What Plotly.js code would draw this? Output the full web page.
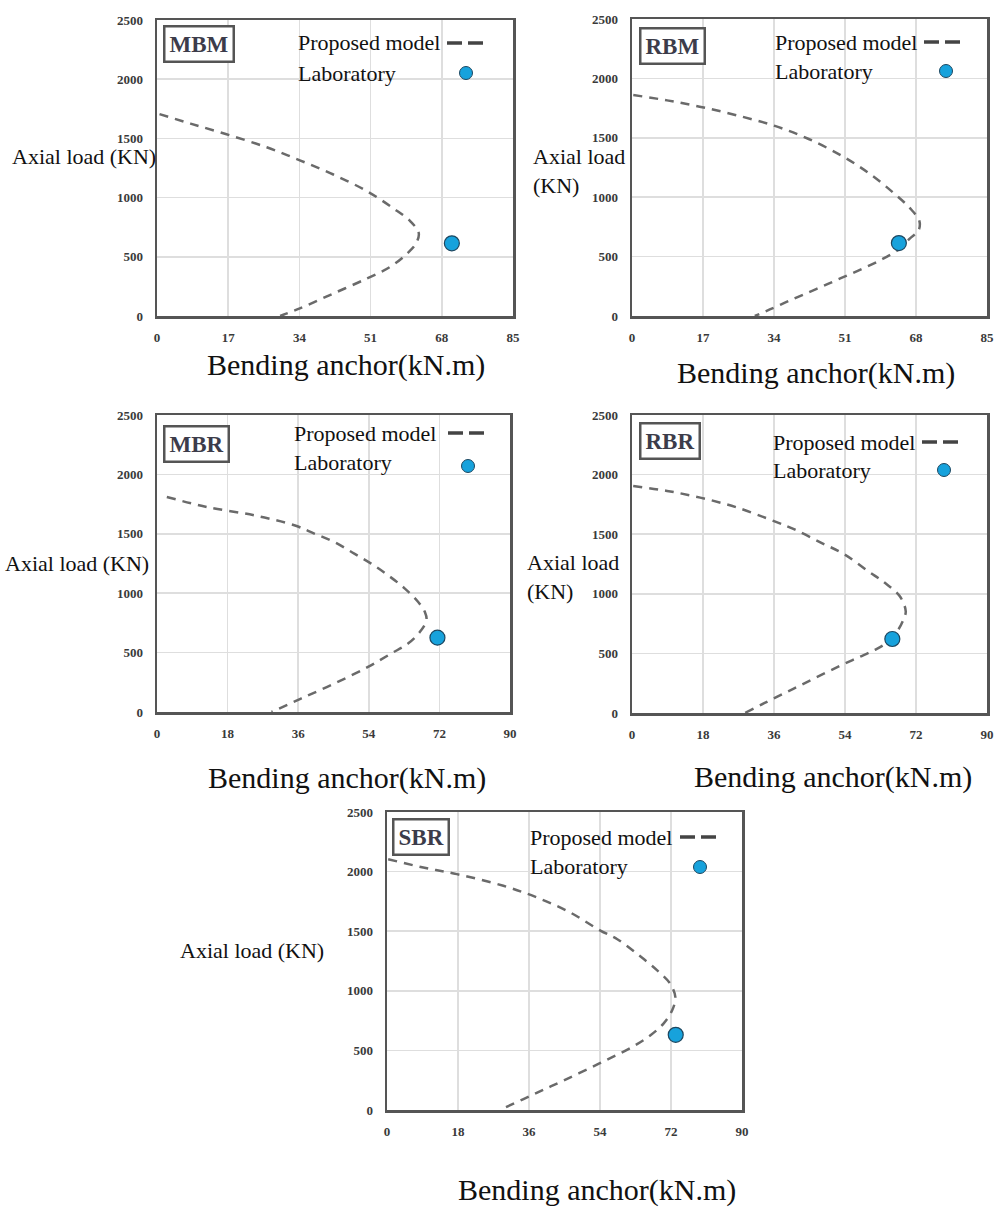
<!DOCTYPE html>
<html><head><meta charset="utf-8">
<script src="https://cdn.plot.ly/plotly-3.0.1.min.js"></script>
<style>html,body{margin:0;padding:0;background:#fff}</style>
</head><body><div id="chart" style="width:994px;height:1208px"></div>
<script>
// ---------------- DATA ----------------
const panelNames = ['MBM', 'RBM', 'MBR', 'RBR', 'SBR'];
const xTicks85 = [0, 17, 34, 51, 68, 85];
const xTicks90 = [0, 18, 36, 54, 72, 90];
const yTicks = [0, 500, 1000, 1500, 2000, 2500];
const legendModel = 'Proposed model';
const legendLab = 'Laboratory';
const yTitle = 'Axial load (KN)';
const yTitleSplit = 'Axial load<br>(KN)';
const xTitle = 'Bending anchor(kN.m)';

const mbmModelX = [0.6, 8.0, 16.6, 26.2, 34.1, 42.1, 50.1, 56.4, 60.5, 62.5, 61.8, 59.5, 55.6, 50.1, 42.1, 34.1, 29.4];
const mbmModelY = [1705, 1625, 1535, 1425, 1315, 1195, 1055, 910, 800, 700, 610, 520, 413, 316, 190, 64, 0];
const rbmModelX = [0.3, 8.4, 16.5, 25.0, 34.2, 42.3, 50.4, 56.8, 62.5, 66.5, 68.8, 68.6, 66.5, 64.1, 60.0, 55.0, 50.0, 45.5, 41.0, 37.0, 33.0, 29.4];
const rbmModelY = [1860, 1815, 1760, 1690, 1600, 1490, 1345, 1200, 1040, 910, 800, 720, 651, 567, 480, 395, 318, 248, 180, 118, 55, 0];
const mbrModelX = [2.5, 12.7, 24.7, 35.0, 40.1, 45.2, 50.3, 54.6, 58.9, 63.2, 66.6, 68.3, 68.7, 67.0, 64.0, 59.7, 53.8, 45.2, 36.7, 29.2];
const mbrModelY = [1810, 1726, 1656, 1572, 1502, 1431, 1333, 1249, 1151, 1039, 926, 842, 772, 673, 576, 492, 379, 239, 113, 0];
const rbrModelX = [0.3, 8.9, 17.3, 26.5, 36.0, 41.2, 48.0, 53.9, 59.9, 64.1, 67.9, 69.4, 68.8, 67.5, 65.0, 61.6, 57.3, 53.0, 48.0, 42.9, 38.6, 33.5, 28.6];
const rbrModelY = [1905, 1863, 1807, 1725, 1610, 1540, 1428, 1330, 1189, 1092, 979, 853, 783, 699, 600, 530, 465, 400, 320, 236, 166, 82, 0];
const sbrModelX = [0.3, 9.2, 17.7, 29.5, 38.0, 46.4, 54.1, 58.3, 63.4, 68.5, 71.8, 73.1, 72.3, 70.1, 66.8, 62.5, 56.6, 50.7, 44.7, 39.7, 34.6, 28.6];
const sbrModelY = [2104, 2034, 1979, 1881, 1783, 1658, 1505, 1435, 1310, 1171, 1059, 947, 836, 725, 627, 535, 435, 340, 247, 170, 92, 0];

const labX = [70.4, 63.9, 71.5, 66.0, 73.2];
const labY = [614, 614, 626, 621, 631];

const modelX = [mbmModelX, rbmModelX, mbrModelX, rbrModelX, sbrModelX];
const modelY = [mbmModelY, rbmModelY, mbrModelY, rbrModelY, sbrModelY];
const xTickSets = [xTicks85, xTicks85, xTicks90, xTicks90, xTicks90];

// ---------------- LAYOUT (page pixels) ----------------
const W = 994, H = 1208;
const fx = p => p / W;
const fy = p => 1 - p / H;
const panels = [
  {l:157, r:513, t:20,  b:316, box:[163,25],  pm:[296,43],  dash:[447,483], lab:[296,73],  dot:[466,73],  yt:{x:158, y:157, anchor:'right', split:false}, xt:[346,365]},
  {l:632, r:987, t:19,  b:316, box:[639,27],  pm:[773,42],  dash:[924,960], lab:[773,71],  dot:[946,71],  yt:{x:531, y:171, anchor:'left', split:true},  xt:[816,373]},
  {l:157, r:510, t:415, b:712, box:[163,425], pm:[292,433], dash:[448,484], lab:[292,462], dot:[468,466], yt:{x:151, y:563, anchor:'right', split:false}, xt:[347,778]},
  {l:632, r:987, t:415, b:713, box:[639,422], pm:[771,442], dash:[922,958], lab:[771,470], dot:[944,470], yt:{x:525, y:577, anchor:'left', split:true},  xt:[833,777]},
  {l:387, r:742, t:812, b:1110,box:[392,818], pm:[528,837], dash:[680,716], lab:[528,866], dot:[700,867], yt:{x:178, y:950, anchor:'left', split:false}, xt:[597,1190]}
];

const serif = 'Liberation Serif, Times New Roman, serif';
const markerColor = '#17a2dc';
const traces = [];
const layout = {
  width: W, height: H,
  margin: {l:0, r:0, t:0, b:0},
  paper_bgcolor: '#fff', plot_bgcolor: '#fff',
  showlegend: false,
  annotations: [], shapes: []
};

panels.forEach((p, i) => {
  const n = i === 0 ? '' : String(i + 1);
  const xa = 'xaxis' + n, ya = 'yaxis' + n;
  const ticks = xTickSets[i];
  layout[xa] = {
    domain: [fx(p.l), fx(p.r)], anchor: 'y' + n,
    range: [ticks[0], ticks[ticks.length - 1]], tickvals: ticks, ticktext: ticks.map(String),
    showgrid: true, gridcolor: '#dedede', gridwidth: 1.5, zeroline: false,
    showline: true, mirror: true, linecolor: '#555', linewidth: 2.5,
    ticks: 'outside', ticklen: 8, tickcolor: 'rgba(0,0,0,0)',
    tickfont: {family: serif, size: 13, color: '#3a3a3a', weight: 'bold'}
  };
  layout[ya] = {
    domain: [fy(p.b), fy(p.t)], anchor: 'x' + n,
    range: [0, 2500], tickvals: yTicks, ticktext: yTicks.map(String),
    showgrid: true, gridcolor: '#dedede', gridwidth: 1.5, zeroline: false,
    showline: true, mirror: true, linecolor: '#555', linewidth: 2.5,
    ticks: 'outside', ticklen: 9, tickcolor: 'rgba(0,0,0,0)',
    tickfont: {family: serif, size: 13, color: '#3a3a3a', weight: 'bold'}
  };
  traces.push({
    type: 'scatter', mode: 'lines', x: modelX[i], y: modelY[i],
    xaxis: 'x' + n, yaxis: 'y' + n,
    line: {color: '#6a6a6a', width: 2.5, dash: '9px,7px', shape: 'spline', smoothing: 1},
    name: legendModel
  });
  traces.push({
    type: 'scatter', mode: 'markers', x: [labX[i]], y: [labY[i]],
    xaxis: 'x' + n, yaxis: 'y' + n, cliponaxis: false,
    marker: {color: markerColor, size: 15, line: {color: '#1d4760', width: 1.2}},
    name: legendLab
  });

  layout.annotations.push({
    xref: 'paper', yref: 'paper', x: fx(p.box[0]), y: fy(p.box[1]),
    xanchor: 'left', yanchor: 'top', showarrow: false,
    text: '<b>' + panelNames[i] + '</b>',
    font: {family: serif, size: 23, color: '#3c3c4a'},
    bordercolor: '#555', borderwidth: 2.5, borderpad: 4, bgcolor: '#fff'
  });
  layout.annotations.push({
    xref: 'paper', yref: 'paper', x: fx(p.pm[0]), y: fy(p.pm[1]),
    xanchor: 'left', yanchor: 'middle', showarrow: false, text: legendModel,
    font: {family: serif, size: 22, color: '#111'}
  });
  layout.annotations.push({
    xref: 'paper', yref: 'paper', x: fx(p.lab[0]), y: fy(p.lab[1]),
    xanchor: 'left', yanchor: 'middle', showarrow: false, text: legendLab,
    font: {family: serif, size: 22, color: '#111'}
  });
  layout.shapes.push({
    type: 'line', xref: 'paper', yref: 'paper',
    x0: fx(p.dash[0]), x1: fx(p.dash[1]), y0: fy(p.pm[1]), y1: fy(p.pm[1]),
    line: {color: '#444', width: 3.5, dash: '15px,6px'}
  });
  layout.shapes.push({
    type: 'circle', xref: 'paper', yref: 'paper',
    xsizemode: 'pixel', ysizemode: 'pixel',
    xanchor: fx(p.dot[0]), yanchor: fy(p.dot[1]),
    x0: -6.5, x1: 6.5, y0: -6.5, y1: 6.5,
    fillcolor: markerColor, line: {color: '#1d4760', width: 1}
  });
  layout.annotations.push({
    xref: 'paper', yref: 'paper', x: fx(p.yt.x), y: fy(p.yt.y),
    xanchor: p.yt.anchor, yanchor: 'middle', align: 'left', showarrow: false,
    text: p.yt.split ? yTitleSplit : yTitle,
    font: {family: serif, size: 22, color: '#111'}
  });
  layout.annotations.push({
    xref: 'paper', yref: 'paper', x: fx(p.xt[0]), y: fy(p.xt[1]),
    xanchor: 'center', yanchor: 'middle', showarrow: false, text: xTitle,
    font: {family: serif, size: 30, color: '#111'}
  });
});

Plotly.newPlot('chart', traces, layout, {staticPlot: true, displayModeBar: false});
</script>
</body></html>
